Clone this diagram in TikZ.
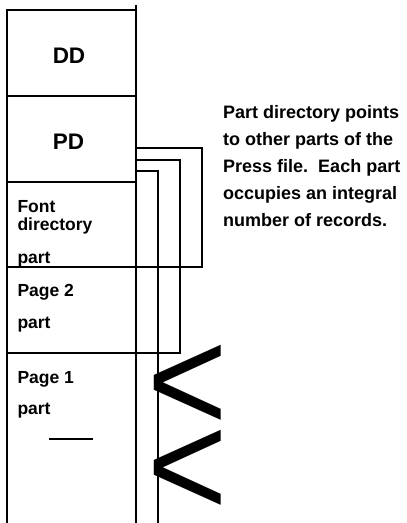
\documentclass[tikz,border=0pt]{standalone}
\usepackage{fontspec}
\setmainfont{Liberation Sans}
\begin{document}
\begin{tikzpicture}[x=1pt,y=-1pt,
  wall/.style={draw=black, line width=2.8pt, line join=miter},
  part/.style={draw=black, line width=2.8pt, rectangle, minimum width=129pt, inner sep=0pt, outer sep=0pt},
  lbl/.style={font=\bfseries\fontsize{17.5}{20}\selectfont, anchor=base west, inner sep=0pt},
  big/.style={font=\bfseries\fontsize{22.5}{26}\selectfont, anchor=base, inner sep=0pt},
  note/.style={font=\bfseries\fontsize{18}{27}\selectfont, anchor=base west, inner sep=0pt},
  chev/.style={font=\fontsize{148}{148}\selectfont, anchor=base west, inner sep=0pt, xscale=0.93}]
\useasboundingbox (0,0) rectangle (407,523);
% boxes
\node[part, minimum height=86pt] (dd) at (71.5,53) {};
\node[part, minimum height=86pt] (pd) at (71.5,139) {};
\node[part, minimum height=85pt] (fd) at (71.5,224.5) {};
\node[part, minimum height=86pt] (p2) at (71.5,310) {};
\coordinate (bl) at (7,523);
\coordinate (br) at (136,523);
\coordinate (top) at (136,5);
\draw[wall] (dd.north east) -- (top);
\draw[wall] (p2.south west) -- (bl);
\draw[wall] (p2.south east) -- (br);
% pointers from the part directory
\coordinate (o1) at (202,267);
\coordinate (o2) at (180,353);
\coordinate (o3) at (158,523);
\draw[wall] (pd.east |- 0,148) -| (o1) -- (fd.south east);
\draw[wall] (pd.east |- 0,160) -| (o2) -- (p2.south east);
\draw[wall] (pd.east |- 0,171) -| (o3);
% small dash
\coordinate (d1) at (49,439);
\coordinate (d2) at (93,439);
\draw[wall] (d1) -- (d2);
% labels
\node[big] (tdd) at (69,63) {DD};
\node[big] (tpd) at (68.5,149) {PD};
\node[lbl] (f1) at (17.3,212) {Font};
\node[lbl] (f2) at (17.3,230) {directory};
\node[lbl] (f3) at (17.3,263) {part};
\node[lbl] (g1) at (17.3,296) {Page 2};
\node[lbl] (g2) at (17.3,328) {part};
\node[lbl] (h1) at (17.3,383) {Page 1};
\node[lbl] (h2) at (17.3,414) {part};
% note
\node[note] (n1) at (223,118) {Part directory points};
\node[note] (n2) at (223,145) {to other parts of the};
\node[note] (n3) at (223,172) {Press file.\ \ Each part};
\node[note] (n4) at (223,199) {occupies an integral};
\node[note] (n5) at (223,226) {number of records.};
% break marks
\node[chev] (c1) at (147.5,431.6) {<};
\node[chev] (c2) at (147.5,516.6) {<};
\end{tikzpicture}
\end{document}
